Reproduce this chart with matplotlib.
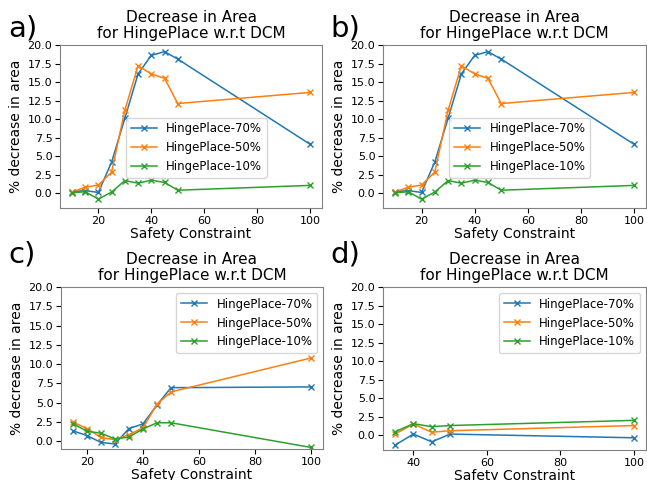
import matplotlib
matplotlib.use("Agg")
import matplotlib.pyplot as plt

# data
x_ab = [10, 15, 20, 25, 30, 35, 40, 45, 50, 100]
a_70 = [0.2, 0.35, 0.1, 4.2, 10.1, 16.1, 18.6, 19.1, 18.1, 6.6]
a_50 = [0.15, 0.8, 1.1, 2.85, 11.2, 17.2, 16.1, 15.5, 12.1, 13.6]
a_10 = [0.05, 0.2, -0.8, 0.15, 1.7, 1.35, 1.75, 1.45, 0.4, 1.05]

x_c = [15, 20, 25, 30, 35, 40, 45, 50, 100]
c_70 = [1.35, 0.75, -0.15, -0.35, 1.65, 2.25, 4.7, 6.95, 7.05]
c_50 = [2.5, 1.65, 0.5, 0.2, 0.85, 1.75, 4.8, 6.4, 10.8]
c_10 = [2.3, 1.3, 1.05, 0.3, 0.55, 1.6, 2.4, 2.4, -0.8]

x_d = [35, 40, 45, 50, 100]
d_70 = [-1.35, 0.15, -0.9, 0.15, -0.35]
d_50 = [0.15, 1.5, 0.4, 0.6, 1.3]
d_10 = [0.45, 1.55, 1.15, 1.3, 2.0]

labels = ["HingePlace-70%", "HingePlace-50%", "HingePlace-10%"]
panel_tags = ["a)", "b)", "c)", "d)"]

W, H = 647, 480
fig = plt.figure(figsize=(W / 100, H / 100), dpi=100)

# axes boxes in pixels: left, right, top, bottom
boxes = [(60, 322, 45, 208), (383, 646, 45, 208),
         (61, 323, 287, 449), (383, 646, 287, 450)]
panels = [(x_ab, [a_70, a_50, a_10]), (x_ab, [a_70, a_50, a_10]),
          (x_c, [c_70, c_50, c_10]), (x_d, [d_70, d_50, d_10])]
ylims = [(-2, 20), (-2, 20), (-1, 20), (-2, 20)]
tag_pos = [(8, 36), (330, 36), (8, 262), (330, 262)]

for i, (l, r, t, b) in enumerate(boxes):
    ax = fig.add_axes([l / W, 1 - b / H, (r - l) / W, (b - t) / H])
    xs, series = panels[i]
    for ys, lab in zip(series, labels):
        ax.plot(xs, ys, marker="x", markersize=4, linewidth=1.1, label=lab)
    ax.set_ylim(*ylims[i])
    ax.set_yticks([0, 2.5, 5, 7.5, 10, 12.5, 15, 17.5, 20])
    ax.set_title("Decrease in Area\nfor HingePlace w.r.t DCM", fontsize=11,
                 pad=5, linespacing=1.1)
    ax.set_xlabel("Safety Constraint", fontsize=10, labelpad=1)
    ax.set_ylabel("% decrease in area", fontsize=10, labelpad=3)
    ax.tick_params(labelsize=8, length=3.5, pad=2)
    for s in ax.spines.values():
        s.set_color("#808080")
    if i < 2:
        ax.legend(loc="center", bbox_to_anchor=(0.52, 0.37), fontsize=8.5,
                  handlelength=2.2, borderpad=0.4, labelspacing=0.5)
    else:
        ax.legend(loc="upper right", fontsize=8.5,
                  handlelength=2.2, borderpad=0.4, labelspacing=0.5)
    fig.text(tag_pos[i][0] / W, 1 - tag_pos[i][1] / H, panel_tags[i],
             fontsize=21, ha="left", va="baseline")

fig.savefig("out.png", dpi=100)
